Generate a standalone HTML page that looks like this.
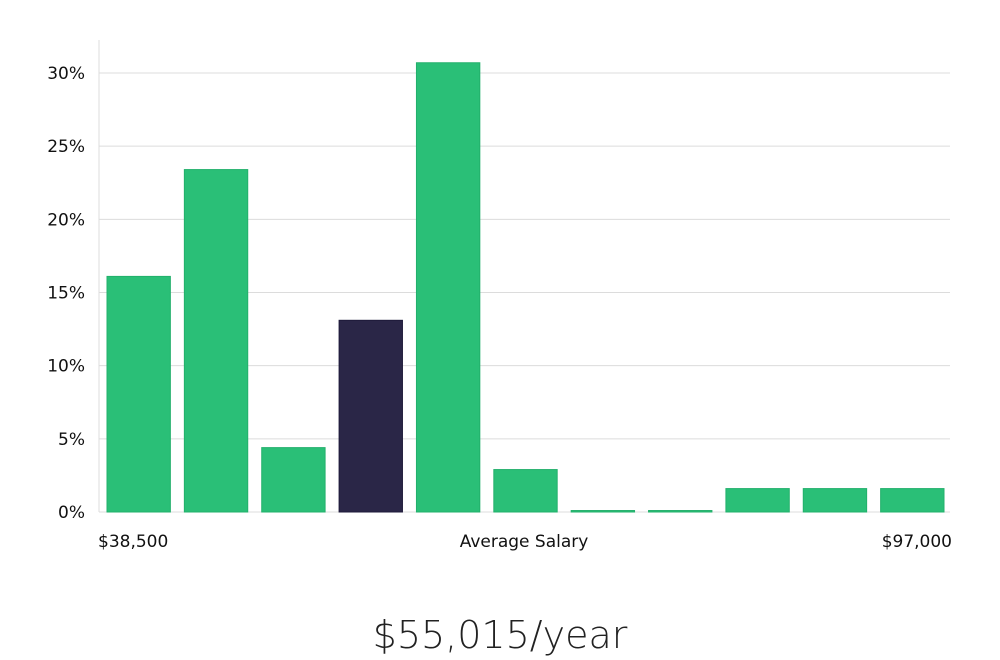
<!DOCTYPE html>
<html><head><meta charset="utf-8"><style>
body{margin:0;background:#fff;}
svg{display:block;font-family:"DejaVu Sans","Liberation Sans",sans-serif;}
</style></head><body>
<svg id="chart" width="1000" height="660">
<text x="500" y="648" text-anchor="middle" font-size="38" fill="#222" font-family="'DejaVu Sans Light','DejaVu Sans',sans-serif" font-weight="300">$55,015/year</text>
</svg>
<script>
const categories=["b1","b2","b3","b4","b5","b6","b7","b8","b9","b10","b11"];
const values=[16.1,23.4,4.4,13.1,30.7,2.9,0.1,0.1,1.6,1.6,1.6];
const highlightIndex=3;
const yTicks=[0,5,10,15,20,25,30];
const xLabels=["$38,500","Average Salary","$97,000"];
const svg=document.getElementById('chart');
const NS="http://www.w3.org/2000/svg";
const L=99,R=950,T=40,B=512;
const y=v=>B-(v/30)*(B-73);
const band=(R-L)/categories.length;
const x=i=>L+i*band+8;
function mk(tag,attrs){const e=document.createElementNS(NS,tag);for(const k in attrs)e.setAttribute(k,attrs[k]);svg.appendChild(e);return e;}
yTicks.forEach(t=>{
 const g=mk('line',{x1:L,x2:R,y1:y(t),y2:y(t),stroke:'#dcdcdc','stroke-width':1});
 
 
 const tx=mk('text',{x:85,y:y(t)+6,'text-anchor':'end','font-size':17,fill:'#111'});
 tx.textContent=t+'%';
 
 
});
const ax=mk('line',{x1:L,x2:L,y1:T,y2:B,stroke:'#dcdcdc','stroke-width':1});


values.forEach((v,i)=>{
 const top=y(v);
 const r=mk('rect',{x:x(i),y:top,width:band-14,height:Math.max(B-top,1),fill:i===highlightIndex?'#2a2647':'#2abf77',stroke:i===highlightIndex?'#1e1a3a':'#22b06b','stroke-width':1});
 
 
});
const xl=[[98,'start'],[524,'middle'],[952,'end']];
xLabels.forEach((s,i)=>{
 const t=mk('text',{x:xl[i][0],y:547,'text-anchor':xl[i][1],'font-size':17,fill:'#111'});
 t.textContent=s;
 
 
});
</script>
</body></html>
